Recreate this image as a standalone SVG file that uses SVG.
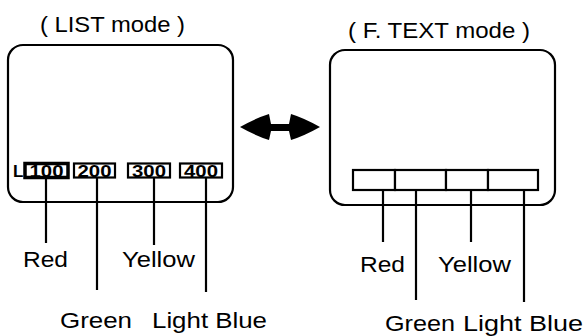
<svg xmlns="http://www.w3.org/2000/svg" width="586" height="336" viewBox="0 0 586 336">
<style>
.frame{fill:none;stroke:#000;stroke-width:2.2}
.cell{fill:#fff;stroke:#000;stroke-width:2.2}
.cellb{fill:#fff;stroke:#000;stroke-width:3.5}
.lead{stroke:#000;stroke-width:2.2;fill:none}
.lbl{font-family:"Liberation Sans",Arial,sans-serif;font-size:22px;fill:#000}
.num{font-family:"Liberation Sans",Arial,sans-serif;font-size:17px;fill:#000;font-weight:bold}
</style>
<rect width="586" height="336" fill="#fff"/>
<g id="list-mode">
  <text class="lbl" x="40" y="32" textLength="145" lengthAdjust="spacingAndGlyphs">( LIST mode )</text>
  <rect class="frame" x="8" y="45" width="225" height="157" rx="15"/>
  <text class="num" x="13" y="177" font-weight="normal" font-size="17">L</text>
  <rect class="cellb" x="25" y="163.5" width="43" height="14"/>
  <text class="num" x="46.5" y="177" text-anchor="middle" textLength="34" lengthAdjust="spacingAndGlyphs">100</text>
  <rect class="cell" x="74" y="163.5" width="41" height="14"/>
  <text class="num" x="94.5" y="177" text-anchor="middle" textLength="34" lengthAdjust="spacingAndGlyphs">200</text>
  <rect class="cell" x="128" y="163.5" width="42" height="14"/>
  <text class="num" x="149" y="177" text-anchor="middle" textLength="34" lengthAdjust="spacingAndGlyphs">300</text>
  <rect class="cell" x="180" y="163.5" width="42" height="14"/>
  <text class="num" x="201" y="177" text-anchor="middle" textLength="34" lengthAdjust="spacingAndGlyphs">400</text>
</g>
<g id="ftext-mode">
  <text class="lbl" x="348" y="38" textLength="182" lengthAdjust="spacingAndGlyphs">( F. TEXT mode )</text>
  <rect class="frame" x="330" y="50" width="225" height="155" rx="15"/>
  <rect class="cell" x="353" y="170" width="42" height="20"/>
  <rect class="cell" x="395" y="170" width="51" height="20"/>
  <rect class="cell" x="446" y="170" width="42" height="20"/>
  <rect class="cell" x="488" y="170" width="50" height="20"/>
</g>
<g id="labels">
  <text class="lbl" x="23" y="267" textLength="45" lengthAdjust="spacingAndGlyphs">Red</text>
  <text class="lbl" x="122" y="267" textLength="73" lengthAdjust="spacingAndGlyphs">Yellow</text>
  <text class="lbl" x="60" y="328" textLength="72" lengthAdjust="spacingAndGlyphs">Green</text>
  <text class="lbl" x="152" y="328" textLength="115" lengthAdjust="spacingAndGlyphs">Light Blue</text>
  <text class="lbl" x="360" y="272" textLength="45" lengthAdjust="spacingAndGlyphs">Red</text>
  <text class="lbl" x="438" y="272" textLength="73" lengthAdjust="spacingAndGlyphs">Yellow</text>
  <text class="lbl" x="385" y="331" textLength="70" lengthAdjust="spacingAndGlyphs">Green</text>
  <text class="lbl" x="463" y="331" textLength="120" lengthAdjust="spacingAndGlyphs">Light Blue</text>
</g>
<g id="connectors">
  <line class="lead" x1="46" y1="177.5" x2="46" y2="243"/>
  <line class="lead" x1="97" y1="177.5" x2="97" y2="290"/>
  <line class="lead" x1="154" y1="177.5" x2="154" y2="245"/>
  <line class="lead" x1="206" y1="177.5" x2="206" y2="292"/>
  <line class="lead" x1="383" y1="190" x2="383" y2="242"/>
  <line class="lead" x1="416" y1="190" x2="416" y2="300"/>
  <line class="lead" x1="471" y1="190" x2="471" y2="242"/>
  <line class="lead" x1="524" y1="190" x2="524" y2="302"/>
  <path id="double-arrow" d="M240,127 Q256,118 269,114 L271,124 L289,124 L291,114 Q304,118 320,127 Q304,136 291,140 L289,131 L271,131 L269,140 Q256,136 240,127 Z" fill="#000"/>
</g>
</svg>
